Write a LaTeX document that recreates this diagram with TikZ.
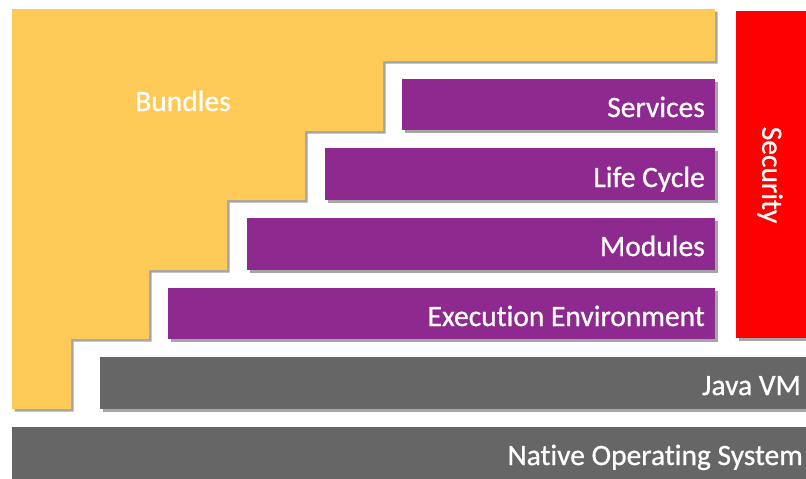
\documentclass[tikz,border=0pt]{standalone}
\usepackage{fontspec}
\setmainfont{Carlito}[Ligatures=NoCommon]
\newfontfamily\layerfont{Carlito}[Ligatures=NoCommon,FakeBold=0.8]
\usetikzlibrary{shadows}

\definecolor{bundleyellow}{HTML}{FDC957}
\definecolor{layerpurple}{HTML}{8E298F}
\definecolor{layergray}{HTML}{666666}
\definecolor{securityred}{HTML}{FF0000}

\begin{document}
\begin{tikzpicture}[x=1pt,y=-1pt,
  shade/.style={drop shadow={shadow xshift=2.5pt,shadow yshift=-2.5pt,opacity=0.5,fill=black!70}},
  lbl/.style={text=white,font=\layerfont\fontsize{29.5}{31}\selectfont,inner sep=0pt}]
\useasboundingbox (0,0) rectangle (806,479);

% Bundles staircase
\fill[bundleyellow,shade] (12,9) -- (715,9) -- (715,61) -- (383,61) -- (383,131)
  -- (305,131) -- (305,200) -- (227,200) -- (227,270) -- (149,270) -- (149,339)
  -- (71,339) -- (71,409) -- (12,409) -- cycle;
\node[lbl,anchor=base] (bundles) at (183,111) {Bundles};

% Framework layers
\fill[layerpurple,shade] (402,79) rectangle (715,130);
\node[lbl,anchor=base east] (services) at (705,117) {Services};

\fill[layerpurple,shade] (325,148) rectangle (715,200);
\node[lbl,anchor=base east] (lifecycle) at (705,187) {Life Cycle};

\fill[layerpurple,shade] (247,218) rectangle (715,270);
\node[lbl,anchor=base east] (modules) at (705,256) {Modules};

\fill[layerpurple,shade] (168,288) rectangle (715,339);
\node[lbl,anchor=base east] (execenv) at (705,326) {Execution Environment};

% Security
\fill[securityred,shade] (736,11) rectangle (806,338);
\node[lbl,rotate=-90] (security) at (770,175) {Security};

% Java VM and OS
\fill[layergray,shade] (100,357) rectangle (806,409);
\node[lbl,anchor=base east] (javavm) at (801,395) {Java VM};

\fill[layergray] (12,427) rectangle (806,479);
\node[lbl,anchor=base east] (nativeos) at (803,465) {Native Operating System};

\end{tikzpicture}
\end{document}
